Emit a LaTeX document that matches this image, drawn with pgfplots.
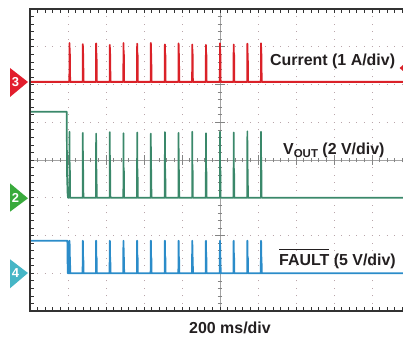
\documentclass[border=0pt]{standalone}
\usepackage{pgfplots}
\pgfplotsset{compat=1.18}
\usepackage{fontspec}
\setmainfont{Liberation Sans}
\definecolor{tred}{RGB}{218,33,40}
\definecolor{tgreen}{RGB}{58,136,106}
\definecolor{tblue}{RGB}{43,140,201}
\definecolor{mred}{RGB}{226,30,45}
\definecolor{mgreen}{RGB}{57,170,60}
\definecolor{mcyan}{RGB}{70,182,198}
\definecolor{gridc}{RGB}{185,165,170}
\definecolor{framec}{RGB}{50,50,50}
\definecolor{txt}{RGB}{35,31,32}
\newcommand\olt[1]{\leavevmode\vbox{\hrule height 1.5bp \kern 4.5bp \hbox{#1}}}
\begin{document}
\begin{tikzpicture}[x=1bp,y=1bp]
\path[use as bounding box] (0,0) rectangle (403,337);
\begin{axis}[at={(30bp,26bp)}, anchor=south west, scale only axis,
  width=373bp, height=302bp, xmin=0, xmax=9.816, ymin=-4, ymax=4,
  axis line style={draw=none}, ticks=none, clip mode=individual]
% grid
\pgfplotsinvokeforeach{1,2,3,4,6,7,8,9}{\draw[gridc, line width=1bp, dash pattern=on 1bp off 6.55bp, dash phase=0.5bp] (axis cs:#1,-4) -- (axis cs:#1,4);}
\pgfplotsinvokeforeach{-3,-2,-1,1,2,3}{\draw[gridc, line width=1bp, dash pattern=on 1bp off 6.6bp, dash phase=0.5bp] (axis cs:0,#1) -- (axis cs:9.816,#1);}
% center lines
\draw[framec!45, line width=0.5bp] (axis cs:5,-4) -- (axis cs:5,4);
\draw[framec!45, line width=0.5bp] (axis cs:0,0) -- (axis cs:9.816,0);
\pgfplotsinvokeforeach{0.2,0.4,...,9.8}{\draw[framec!60, line width=0.6bp] (axis cs:#1,-0.06) -- (axis cs:#1,0.06);}
\pgfplotsinvokeforeach{1,2,...,9}{\draw[framec!60, line width=0.6bp] (axis cs:#1,-0.12) -- (axis cs:#1,0.12);}
\pgfplotsinvokeforeach{-3.8,-3.6,...,3.8}{\draw[framec!60, line width=0.6bp] (axis cs:4.94,#1) -- (axis cs:5.06,#1);}
\pgfplotsinvokeforeach{-3,-2,...,3}{\draw[framec!60, line width=0.6bp] (axis cs:4.88,#1) -- (axis cs:5.12,#1);}
% border ticks
\pgfplotsinvokeforeach{-3.8,-3.6,...,3.8}{\draw[framec, line width=0.7bp] (axis cs:0,#1) -- (axis cs:0.095,#1);}
\pgfplotsinvokeforeach{0.2,0.4,...,9.8}{\draw[framec, line width=0.7bp] (axis cs:#1,4) -- (axis cs:#1,3.905); \draw[framec, line width=0.7bp] (axis cs:#1,-4) -- (axis cs:#1,-3.905);}
% traces
\addplot[tred, line width=1.8bp, line join=round] coordinates {
(0,2.07)
(1.036,2.07)(1.04,3.10)(1.044,2.85)(1.052,2.78)(1.056,2.07)
(1.386,2.07)(1.39,3.07)(1.394,2.85)(1.402,2.78)(1.406,2.07)
(1.736,2.07)(1.74,3.09)(1.744,2.85)(1.752,2.78)(1.756,2.07)
(2.096,2.07)(2.10,3.05)(2.104,2.85)(2.112,2.78)(2.116,2.07)
(2.456,2.07)(2.46,3.10)(2.464,2.85)(2.472,2.78)(2.476,2.07)
(2.816,2.07)(2.82,3.08)(2.824,2.85)(2.832,2.78)(2.836,2.07)
(3.176,2.07)(3.18,3.10)(3.184,2.85)(3.192,2.78)(3.196,2.07)
(3.546,2.07)(3.55,3.06)(3.554,2.85)(3.562,2.78)(3.566,2.07)
(3.906,2.07)(3.91,3.09)(3.914,2.85)(3.922,2.78)(3.926,2.07)
(4.266,2.07)(4.27,3.06)(4.274,2.85)(4.282,2.78)(4.286,2.07)
(4.626,2.07)(4.63,3.05)(4.634,2.85)(4.642,2.78)(4.646,2.07)
(4.996,2.07)(5.00,3.09)(5.004,2.85)(5.012,2.78)(5.016,2.07)
(5.356,2.07)(5.36,3.06)(5.364,2.85)(5.372,2.78)(5.376,2.07)
(5.716,2.07)(5.72,3.08)(5.724,2.85)(5.732,2.78)(5.736,2.07)
(6.076,2.07)(6.08,3.09)(6.084,2.85)(6.092,2.78)(6.096,2.07)
(9.816,2.07)};
\addplot[tgreen, line width=1.7bp, line join=round] coordinates {
(0,1.28)(0.965,1.28)(0.975,-0.4)(0.99,-0.9)(1.0,-1.0)
(1.036,-1.0)(1.04,0.75)(1.044,-0.2)(1.052,-0.3)(1.056,-1.0)
(1.386,-1.0)(1.39,0.72)(1.394,-0.2)(1.402,-0.3)(1.406,-1.0)
(1.736,-1.0)(1.74,0.70)(1.744,-0.2)(1.752,-0.3)(1.756,-1.0)
(2.096,-1.0)(2.10,0.74)(2.104,-0.2)(2.112,-0.3)(2.116,-1.0)
(2.456,-1.0)(2.46,0.71)(2.464,-0.2)(2.472,-0.3)(2.476,-1.0)
(2.816,-1.0)(2.82,0.73)(2.824,-0.2)(2.832,-0.3)(2.836,-1.0)
(3.176,-1.0)(3.18,0.70)(3.184,-0.2)(3.192,-0.3)(3.196,-1.0)
(3.546,-1.0)(3.55,0.74)(3.554,-0.2)(3.562,-0.3)(3.566,-1.0)
(3.906,-1.0)(3.91,0.72)(3.914,-0.2)(3.922,-0.3)(3.926,-1.0)
(4.266,-1.0)(4.27,0.75)(4.274,-0.2)(4.282,-0.3)(4.286,-1.0)
(4.626,-1.0)(4.63,0.71)(4.634,-0.2)(4.642,-0.3)(4.646,-1.0)
(4.996,-1.0)(5.00,0.75)(5.004,-0.2)(5.012,-0.3)(5.016,-1.0)
(5.356,-1.0)(5.36,0.73)(5.364,-0.2)(5.372,-0.3)(5.376,-1.0)
(5.716,-1.0)(5.72,0.76)(5.724,-0.2)(5.732,-0.3)(5.736,-1.0)
(6.076,-1.0)(6.08,0.75)(6.084,-0.2)(6.092,-0.3)(6.096,-1.0)
(9.816,-1.0)};
\addplot[tblue, line width=1.9bp, line join=round] coordinates {
(0,-2.14)(0.985,-2.14)(0.995,-3.0)
(1.036,-3.0)(1.04,-2.14)(1.044,-2.55)(1.052,-2.6)(1.056,-3.0)
(1.386,-3.0)(1.39,-2.14)(1.394,-2.55)(1.402,-2.6)(1.406,-3.0)
(1.736,-3.0)(1.74,-2.14)(1.744,-2.55)(1.752,-2.6)(1.756,-3.0)
(2.096,-3.0)(2.10,-2.14)(2.104,-2.55)(2.112,-2.6)(2.116,-3.0)
(2.456,-3.0)(2.46,-2.14)(2.464,-2.55)(2.472,-2.6)(2.476,-3.0)
(2.816,-3.0)(2.82,-2.14)(2.824,-2.55)(2.832,-2.6)(2.836,-3.0)
(3.176,-3.0)(3.18,-2.14)(3.184,-2.55)(3.192,-2.6)(3.196,-3.0)
(3.546,-3.0)(3.55,-2.14)(3.554,-2.55)(3.562,-2.6)(3.566,-3.0)
(3.906,-3.0)(3.91,-2.14)(3.914,-2.55)(3.922,-2.6)(3.926,-3.0)
(4.266,-3.0)(4.27,-2.14)(4.274,-2.55)(4.282,-2.6)(4.286,-3.0)
(4.626,-3.0)(4.63,-2.14)(4.634,-2.55)(4.642,-2.6)(4.646,-3.0)
(4.996,-3.0)(5.00,-2.14)(5.004,-2.55)(5.012,-2.6)(5.016,-3.0)
(5.356,-3.0)(5.36,-2.14)(5.364,-2.55)(5.372,-2.6)(5.376,-3.0)
(5.716,-3.0)(5.72,-2.14)(5.724,-2.55)(5.732,-2.6)(5.736,-3.0)
(6.076,-3.0)(6.08,-2.14)(6.084,-2.55)(6.092,-2.6)(6.096,-3.0)
(9.816,-3.0)};
% frame
\draw[framec, line width=1.8bp] (axis cs:9.9,4) -- (axis cs:0,4) -- (axis cs:0,-4) -- (axis cs:9.9,-4);
\end{axis}
% labels
\node[anchor=base west, inner sep=0, text=txt, font=\fontsize{16}{19}\selectfont\bfseries] at (270,272) {Current (1 A/div)};
\node[anchor=base west, inner sep=0, text=txt, font=\fontsize{16}{19}\selectfont\bfseries] at (283,183) {V\raisebox{-0.22em}{\fontsize{11.5}{13}\selectfont OUT} (2 V/div)};
\node[anchor=base west, inner sep=0, text=txt, font=\fontsize{16}{19}\selectfont\bfseries] at (279,71.3) {\olt{FAULT} (5 V/div)};
\node[anchor=base, inner sep=0, text=txt, font=\fontsize{16}{19}\selectfont\bfseries] at (230,4) {200 ms/div};
% channel markers
\fill[mred] (10,269) -- (10,240) -- (28,255) -- cycle;
\node[white, font=\fontsize{13}{15}\selectfont\bfseries, inner sep=0] at (15.5,254.5) {3};
\fill[mgreen] (10,153.7) -- (10,125.3) -- (28,138.7) -- cycle;
\node[white, font=\fontsize{13}{15}\selectfont\bfseries, inner sep=0] at (15.5,139) {2};
\fill[mcyan] (10,77.7) -- (10,48.7) -- (28,64) -- cycle;
\node[white, font=\fontsize{13}{15}\selectfont\bfseries, inner sep=0] at (15.5,63.5) {4};
% trigger marker
\fill[tred] (403,272) -- (399.5,269) -- (403,266) -- cycle;
\end{tikzpicture}
\end{document}
